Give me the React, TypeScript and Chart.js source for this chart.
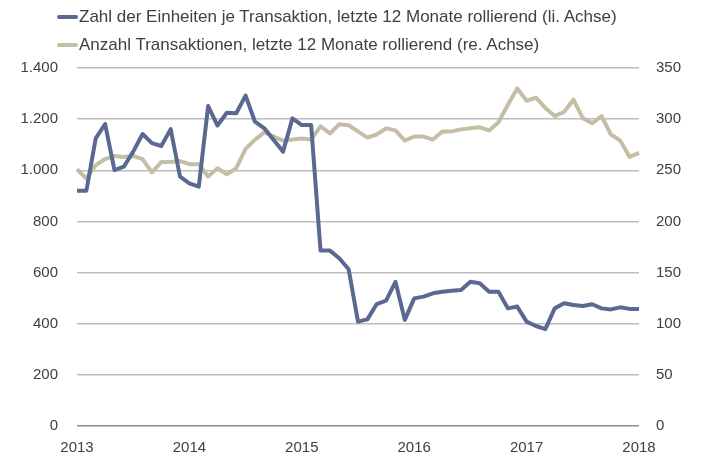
import React, { useEffect, useRef } from 'react';
import { Chart, registerables } from 'chart.js';

Chart.register(...registerables);

const years = [2013, 2014, 2015, 2016, 2017, 2018];
const monthsPerYear = 12;

// Zahl der Einheiten je Transaktion (left axis), monthly Jan 2013 .. Jan 2018
const einheiten = [
  920, 920, 1125, 1181, 1001, 1014, 1073, 1142, 1106, 1095,
  1161, 975, 949, 936, 1251, 1175, 1225, 1223, 1292, 1190,
  1164, 1118, 1073, 1203, 1177, 1177, 686, 686, 656, 613,
  408, 417, 477, 490, 564, 415, 499, 506, 519, 525,
  529, 532, 564, 558, 525, 525, 460, 467, 408, 391,
  379, 460, 480, 473, 469, 476, 460, 456, 464, 458, 458,
];

// Anzahl Transaktionen (right axis)
const transaktionen = [
  251, 242, 255, 261, 264, 263, 264, 261, 248, 258,
  258, 259, 256, 256, 244, 252, 246, 252, 271, 280,
  287, 283, 279, 280, 281, 280, 293, 286, 295, 294,
  288, 282, 285, 291, 289, 279, 283, 283, 280, 288,
  288, 290, 291, 292, 289, 297, 314, 330, 318, 321,
  311, 303, 307, 319, 301, 296, 303, 285, 279, 263, 267,
];

const seriesNames = [
  'Zahl der Einheiten je Transaktion, letzte 12 Monate rollierend (li. Achse)',
  'Anzahl Transaktionen, letzte 12 Monate rollierend (re. Achse)',
];

const leftAxis = { min: 0, max: 1400, step: 200 };
const rightAxis = { min: 0, max: 350, step: 50 };

const colors = ['#5b6891', '#c4bea7'];

// categories: months from Jan 2013 through Jan 2018
const categories: string[] = [];
years.forEach((y, yi) => {
  const n = yi === years.length - 1 ? 1 : monthsPerYear;
  for (let m = 1; m <= n; m++) categories.push(`${y}-${String(m).padStart(2, '0')}`);
});

const FONT = '"Liberation Sans", Arial, Helvetica, sans-serif';

function formatDE(v: number) {
  return v.toLocaleString('de-DE');
}

export default function App() {
  const ref = useRef<HTMLCanvasElement | null>(null);

  useEffect(() => {
    if (!ref.current) return;
    const chart = new Chart(ref.current, {
      type: 'line',
      data: {
        labels: categories,
        datasets: [
          {
            label: seriesNames[0],
            data: einheiten,
            borderColor: colors[0],
            backgroundColor: colors[0],
            borderWidth: 4,
            pointRadius: 0,
            tension: 0,
            yAxisID: 'y',
            borderJoinStyle: 'round',
          },
          {
            label: seriesNames[1],
            data: transaktionen,
            borderColor: colors[1],
            backgroundColor: colors[1],
            borderWidth: 4,
            pointRadius: 0,
            tension: 0,
            yAxisID: 'y1',
            borderJoinStyle: 'round',
          },
        ],
      },
      options: {
        animation: false,
        responsive: false,
        maintainAspectRatio: false,
        layout: { padding: { top: 68, left: 0, right: 0, bottom: 0 } },
        plugins: { legend: { display: false }, tooltip: { enabled: false } },
        scales: {
          x: {
            type: 'category',
            offset: false,
            grid: { display: false },
            border: { display: false },
            ticks: {
              autoSkip: false,
              maxRotation: 0,
              padding: 5,
              color: '#404040',
              font: { family: FONT, size: 15 },
              callback: (_v: any, i: number) =>
                i % monthsPerYear === 0 ? categories[i].slice(0, 4) : '',
            },
            afterFit: (s: any) => {
              s.height = 28;
            },
          },
          y: {
            position: 'left',
            min: leftAxis.min,
            max: leftAxis.max,
            border: { display: false },
            grid: {
              drawTicks: false,
              lineWidth: 1.5,
              color: (c: any) => (c.tick && c.tick.value === 0 ? '#8c8c8c' : '#bdbdbd'),
            },
            ticks: {
              stepSize: leftAxis.step,
              padding: 19,
              color: '#404040',
              font: { family: FONT, size: 15 },
              callback: (v: any) => formatDE(Number(v)),
            },
            afterFit: (s: any) => {
              s.width = 77;
            },
          },
          y1: {
            position: 'right',
            min: rightAxis.min,
            max: rightAxis.max,
            border: { display: false },
            grid: { display: false, drawTicks: false },
            ticks: {
              stepSize: rightAxis.step,
              padding: 17,
              color: '#404040',
              font: { family: FONT, size: 15 },
            },
            afterFit: (s: any) => {
              s.width = 65;
            },
          },
        },
      },
    });
    return () => chart.destroy();
  }, []);

  const legendRow = (i: number, top: number) => (
    <div
      key={i}
      style={{
        position: 'absolute',
        left: 57,
        top,
        height: 20,
        display: 'flex',
        alignItems: 'center',
        fontFamily: FONT,
        fontSize: 17,
        color: '#404040',
        whiteSpace: 'nowrap',
      }}
    >
      <span
        style={{
          display: 'inline-block',
          width: 21,
          height: 4,
          borderRadius: 2,
          background: colors[i],
          marginRight: 1,
        }}
      />
      <span>{seriesNames[i]}</span>
    </div>
  );

  return (
    <div style={{ position: 'fixed', left: 0, top: 0, width: 704, height: 454, background: '#fff' }}>
      <canvas ref={ref} width={704} height={454} style={{ position: 'absolute', left: 0, top: 0 }} />
      {legendRow(0, 7)}
      {legendRow(1, 35)}
    </div>
  );
}
